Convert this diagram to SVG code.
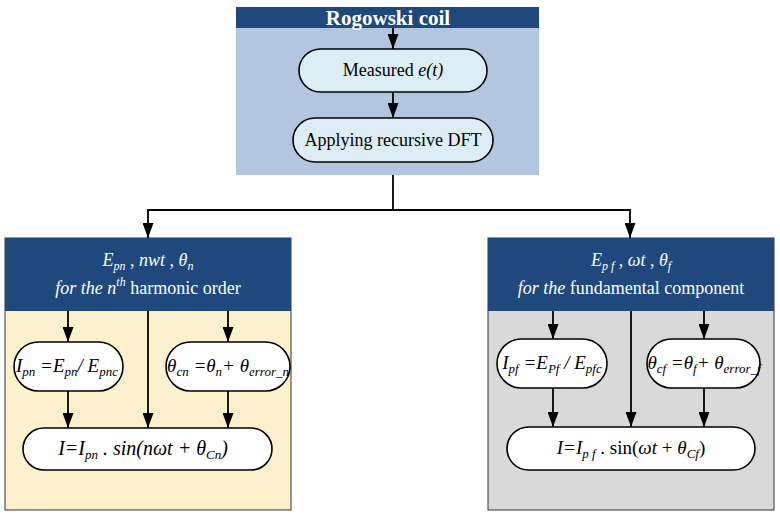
<svg xmlns="http://www.w3.org/2000/svg" width="780" height="515" viewBox="0 0 780 515">
<defs>
<marker id="ah" viewBox="0 0 15 11" refX="15" refY="5.5" markerWidth="15" markerHeight="11" markerUnits="userSpaceOnUse" orient="auto">
<path d="M0,0 L15,5.5 L0,11 z" fill="#000"/>
</marker>
</defs>
<style>
text{font-family:"Liberation Serif","Times New Roman",serif;fill:#000}
.hd{fill:#1f497d}
.w{fill:#fff}
.pill{stroke:#000;stroke-width:1.6}
.pw{fill:#fff}
.pb{fill:#dcedf5}
.i{font-style:italic}
.c{stroke:#000;stroke-width:1.8;fill:none}
.ca{stroke:#000;stroke-width:1.8;fill:none;marker-end:url(#ah)}
.box{stroke:#333;stroke-width:1}
</style>
<g id="rogowski">
<rect x="236" y="28" width="303" height="147" fill="#b3c6df"/>
<rect x="236" y="7" width="303" height="21" class="hd"/>
<text x="388" y="25" text-anchor="middle" font-size="21" font-weight="bold" class="w">Rogowski coil</text>
</g>
<g id="measured">
<rect x="299" y="49" width="188" height="43" rx="21.5" class="pill pb"/>
<text x="393" y="76" text-anchor="middle" font-size="18">Measured <tspan class="i">e(t)</tspan></text>
</g>
<g id="dft">
<rect x="293" y="118" width="200" height="44" rx="22" class="pill pb"/>
<text x="393" y="146" text-anchor="middle" font-size="18">Applying recursive DFT</text>
</g>
<g id="harmonic">
<rect x="5" y="238" width="286" height="272" fill="#fdf0cd" class="box"/>
<rect x="5" y="238" width="286" height="73" class="hd"/>
<text x="148" y="266" text-anchor="middle" font-size="18" class="w i">E<tspan font-size="12" dy="4">pn</tspan><tspan dy="-4"> , nwt , θ</tspan><tspan font-size="12" dy="4">n</tspan></text>
<text x="148" y="294" text-anchor="middle" font-size="18" class="w"><tspan class="i">for the n</tspan><tspan class="i" font-size="12" dy="-8">th</tspan><tspan dy="8"> harmonic order</tspan></text>
</g>
<g id="ipn">
<rect x="14" y="342" width="109" height="49" rx="24.5" class="pill pw"/>
<text x="67" y="372" text-anchor="middle" font-size="19" class="i">I<tspan font-size="13" dy="4">pn</tspan><tspan dy="-4"> =E</tspan><tspan font-size="13" dy="4">pn</tspan><tspan dy="-4">/ E</tspan><tspan font-size="13" dy="4">pnc</tspan></text>
</g>
<g id="thetacn">
<rect x="166" y="342" width="124" height="49" rx="24.5" class="pill pw"/>
<text x="228" y="372" text-anchor="middle" font-size="19" class="i">θ<tspan font-size="13" dy="4">cn</tspan><tspan dy="-4"> =θ</tspan><tspan font-size="13" dy="4">n</tspan><tspan dy="-4">+ θ</tspan><tspan font-size="13" dy="4">error_n</tspan></text>
</g>
<g id="in">
<rect x="23" y="428" width="249" height="42" rx="21" class="pill pw"/>
<text x="143" y="455" text-anchor="middle" font-size="20" class="i">I=I<tspan font-size="13" dy="4">pn</tspan><tspan dy="-4"> . sin(nωt + θ</tspan><tspan font-size="13" dy="4">Cn</tspan><tspan dy="-4">)</tspan></text>
</g>
<g id="fundamental">
<rect x="488" y="238" width="286" height="272" fill="#d9d9d9" class="box"/>
<rect x="488" y="238" width="286" height="73" class="hd"/>
<text x="631" y="266" text-anchor="middle" font-size="18" class="w i">E<tspan font-size="12" dy="4">p f</tspan><tspan dy="-4"> , ωt , θ</tspan><tspan font-size="12" dy="4">f</tspan></text>
<text x="631" y="294" text-anchor="middle" font-size="18" class="w"><tspan class="i">for the</tspan> fundamental component</text>
</g>
<g id="ipf">
<rect x="497" y="339" width="110" height="49" rx="24.5" class="pill pw"/>
<text x="552" y="369" text-anchor="middle" font-size="19" class="i">I<tspan font-size="13" dy="4">pf</tspan><tspan dy="-4"> =E</tspan><tspan font-size="13" dy="4">Pf</tspan><tspan dy="-4"> / E</tspan><tspan font-size="13" dy="4">pfc</tspan></text>
</g>
<g id="thetacf">
<rect x="647" y="339" width="113" height="49" rx="24.5" class="pill pw"/>
<text x="704" y="369" text-anchor="middle" font-size="19" class="i">θ<tspan font-size="13" dy="4">cf</tspan><tspan dy="-4"> =θ</tspan><tspan font-size="13" dy="4">f</tspan><tspan dy="-4">+ θ</tspan><tspan font-size="13" dy="4">error_f</tspan></text>
</g>
<g id="if">
<rect x="507" y="427" width="248" height="43" rx="21.5" class="pill pw"/>
<text x="631" y="454" text-anchor="middle" font-size="19"><tspan class="i">I=I</tspan><tspan class="i" font-size="13" dy="4">p f</tspan><tspan dy="-4"> . sin(</tspan><tspan class="i">ωt</tspan> + <tspan class="i">θ</tspan><tspan class="i" font-size="13" dy="4">Cf</tspan><tspan dy="-4">)</tspan></text>
</g>
<g id="connectors">
<line x1="393" y1="28" x2="393" y2="49" class="ca"/>
<line x1="393" y1="92" x2="393" y2="118" class="ca"/>
<polyline points="393,175 393,210" class="c"/>
<polyline points="393,210 148,210 148,238" class="ca"/>
<polyline points="393,210 630,210 630,238" class="ca"/>
<line x1="68" y1="311" x2="68" y2="342" class="ca"/>
<line x1="148" y1="311" x2="148" y2="428" class="ca"/>
<line x1="228" y1="311" x2="228" y2="342" class="ca"/>
<line x1="68" y1="391" x2="68" y2="428" class="ca"/>
<line x1="228" y1="391" x2="228" y2="428" class="ca"/>
<line x1="553" y1="311" x2="553" y2="339" class="ca"/>
<line x1="631" y1="311" x2="631" y2="427" class="ca"/>
<line x1="704" y1="311" x2="704" y2="339" class="ca"/>
<line x1="553" y1="388" x2="553" y2="427" class="ca"/>
<line x1="704" y1="388" x2="704" y2="427" class="ca"/>
</g>
</svg>
